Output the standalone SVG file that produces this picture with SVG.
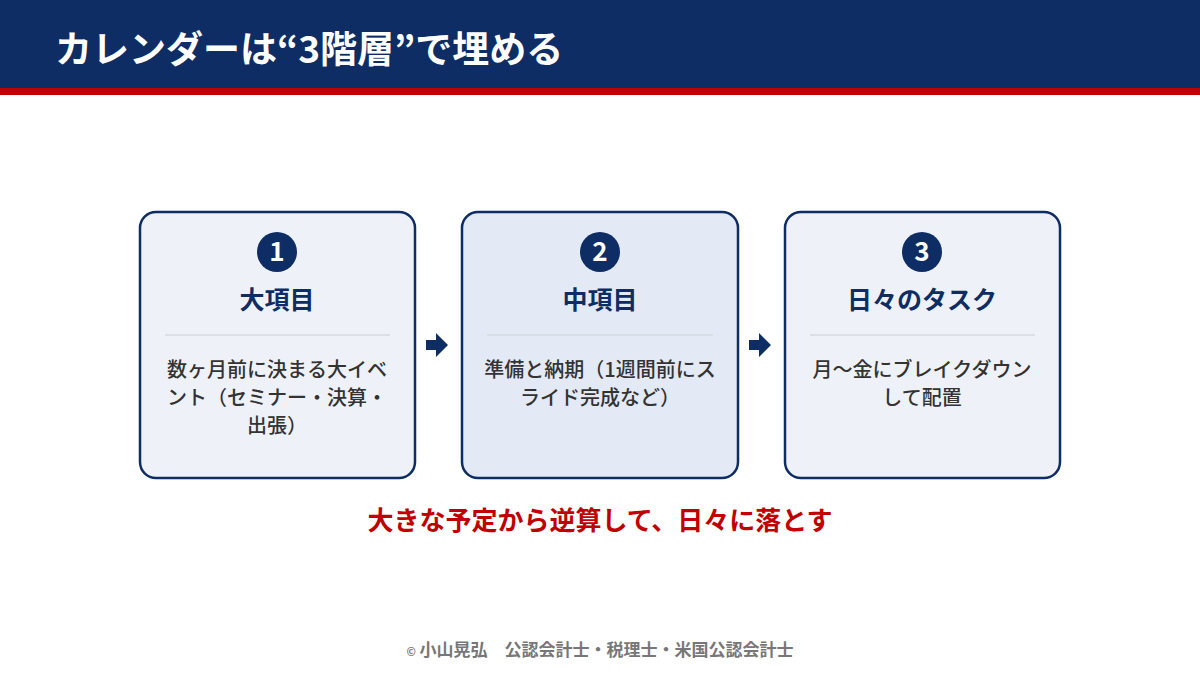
<svg xmlns="http://www.w3.org/2000/svg" width="1200" height="675" viewBox="0 0 1200 675">
<style>
text{font-family:"Noto Sans CJK JP","Noto Sans",sans-serif}
.box{fill:#eef2f8;stroke:#0e2d64;stroke-width:2.5}
.num{fill:#0e2d64}
.nt{fill:#fff;font-size:26px;font-weight:700;text-anchor:middle}
.hd{fill:#0e2d64;font-size:25px;font-weight:700;text-anchor:middle}
.bd{fill:#333;font-size:20px;font-weight:500;text-anchor:middle}
.dv{stroke:#d4d9e0;stroke-width:1.5}
.ar{fill:#0e2d64}
</style>
<rect x="0" y="0" width="1200" height="88" fill="#0e2d64"/>
<rect x="0" y="88" width="1200" height="7" fill="#c00000"/>
<text x="55" y="63" font-size="37" font-weight="700" fill="#fff">カレンダーは“3階層”で埋める</text>
<g id="node1">
<rect class="box" x="140" y="212" width="275" height="266" rx="16"/>
<circle class="num" cx="277" cy="252" r="20"/><text class="nt" x="277" y="261">1</text>
<text class="hd" x="277" y="309">大項目</text>
<line class="dv" x1="165" y1="335" x2="390" y2="335"/>
<text class="bd" x="277" y="377">数ヶ月前に決まる大イベ</text>
<text class="bd" x="277" y="405">ント（セミナー・決算・</text>
<text class="bd" x="277" y="433">出張）</text>
</g>
<g id="node2">
<rect class="box" x="462" y="212" width="276" height="266" rx="16" style="fill:#e3eaf5"/>
<circle class="num" cx="600" cy="252" r="20"/><text class="nt" x="600" y="261">2</text>
<text class="hd" x="600" y="309">中項目</text>
<line class="dv" x1="487" y1="335" x2="713" y2="335"/>
<text class="bd" x="600" y="377">準備と納期（1週間前にス</text>
<text class="bd" x="600" y="405">ライド完成など）</text>
</g>
<g id="node3">
<rect class="box" x="785" y="212" width="275" height="266" rx="16"/>
<circle class="num" cx="922" cy="252" r="20"/><text class="nt" x="922" y="261">3</text>
<text class="hd" x="922" y="309">日々のタスク</text>
<line class="dv" x1="810" y1="335" x2="1035" y2="335"/>
<text class="bd" x="922" y="377">月〜金にブレイクダウン</text>
<text class="bd" x="922" y="405">して配置</text>
</g>
<g id="connectors">
<path class="ar" d="M426 340h10v-7l12 12-12 12v-7h-10z"/>
<path class="ar" d="M749 340h10v-7l12 12-12 12v-7h-10z"/>
</g>
<text x="600" y="530" font-size="26" font-weight="700" fill="#c00000" text-anchor="middle">大きな予定から逆算して、日々に落とす</text>
<text x="600" y="656" font-size="17" font-weight="700" fill="#777" text-anchor="middle"><tspan font-size="11">©</tspan> 小山晃弘　公認会計士・税理士・米国公認会計士</text>
</svg>
